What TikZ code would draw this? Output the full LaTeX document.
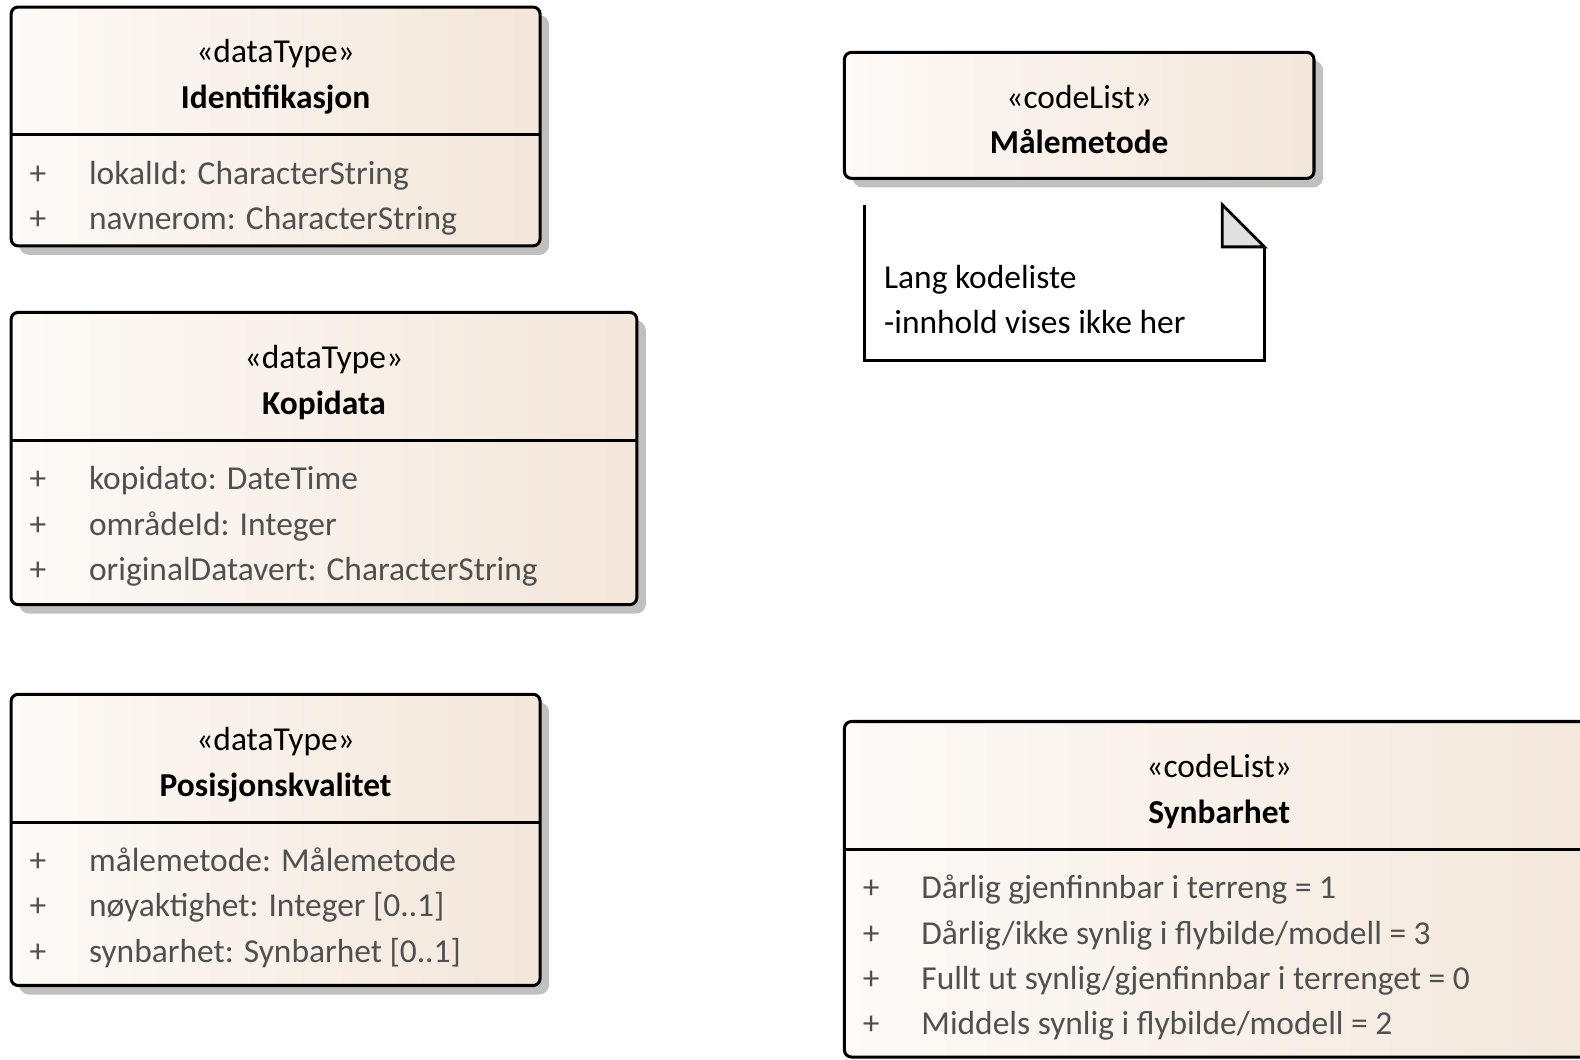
\documentclass[tikz,border=0pt]{standalone}
\usepackage{fontspec}
\setmainfont{Carlito}
\begin{document}
\begin{tikzpicture}[x=0.5pt,y=-0.5pt,
  shadowbox/.style={fill=shadowgray,rounded corners=5pt},
  classbox/.style={draw=black,line width=1.5pt,rounded corners=3.5pt,left color=boxleft,right color=boxright},
  divider/.style={draw=black,line width=1.5pt},
  stereo/.style={font=\fontsize{16.6}{20}\selectfont,text=black,inner sep=0pt,anchor=base},
  cname/.style={font=\fontsize{16.6}{20}\selectfont\bfseries,text=black,inner sep=0pt,anchor=base},
  attr/.style={font=\fontsize{16.6}{20}\selectfont,text=attrgray,anchor=base west,inner sep=0pt},
  notetxt/.style={font=\fontsize{16.6}{20}\selectfont,text=black,anchor=base west,inner sep=0pt}
]
\definecolor{shadowgray}{RGB}{192,192,192}
\definecolor{boxleft}{RGB}{253,250,247}
\definecolor{boxright}{RGB}{243,230,218}
\definecolor{attrgray}{RGB}{80,80,80}
\definecolor{foldgray}{RGB}{224,224,224}
\useasboundingbox (0,0) rectangle (1568,1051);
\clip (0,0) rectangle (1568,1051);

% ---------- Identifikasjon ----------
\fill[shadowbox] (19,15) rectangle (545,253);
\path[classbox] (11,7) rectangle (536,244);
\draw[divider] (11,133) -- (536,133);
\node[stereo] (idst) at (273.5,62) {«dataType»};
\node[cname] (idnm) at (273.5,108) {Identifikasjon};
\node[attr] (idp1) at (29,183) {+};
\node[attr] (ida1) at (88,183) {lokalId: CharacterString};
\node[attr] (idp2) at (29,228) {+};
\node[attr] (ida2) at (88,228) {navnerom: CharacterString};

% ---------- Kopidata ----------
\fill[shadowbox] (19,318) rectangle (641,609);
\path[classbox] (11,310) rectangle (632,600);
\draw[divider] (11,437) -- (632,437);
\node[stereo] (kost) at (321.5,366) {«dataType»};
\node[cname] (konm) at (321.5,411) {Kopidata};
\node[attr] (kop1) at (29,486) {+};
\node[attr] (koa1) at (88,486) {kopidato: DateTime};
\node[attr] (kop2) at (29,531) {+};
\node[attr] (koa2) at (88,531) {områdeId: Integer};
\node[attr] (kop3) at (29,576) {+};
\node[attr] (koa3) at (88,576) {originalDatavert: CharacterString};

% ---------- Posisjonskvalitet ----------
\fill[shadowbox] (19,697) rectangle (545,987);
\path[classbox] (11,689) rectangle (536,978);
\draw[divider] (11,816) -- (536,816);
\node[stereo] (post) at (273.5,745) {«dataType»};
\node[cname] (ponm) at (273.5,790) {Posisjonskvalitet};
\node[attr] (pop1) at (29,865) {+};
\node[attr] (poa1) at (88,865) {målemetode: Målemetode};
\node[attr] (pop2) at (29,910) {+};
\node[attr] (poa2) at (88,910) {nøyaktighet: Integer [0..1]};
\node[attr] (pop3) at (29,955) {+};
\node[attr] (poa3) at (88,955) {synbarhet: Synbarhet [0..1]};

% ---------- Målemetode ----------
\fill[shadowbox] (846,60) rectangle (1313,186);
\path[classbox] (838,52) rectangle (1304,177);
\node[stereo] (mast) at (1071,108) {«codeList»};
\node[cname] (manm) at (1071,152) {Målemetode};

% ---------- Note ----------
\draw[black,line width=1.4pt] (858,203) -- (858,358) -- (1255,358) -- (1255,245);
\filldraw[draw=black,fill=foldgray,line width=1.4pt,line join=miter] (1213,203) -- (1255,245) -- (1213,245) -- cycle;
\node[notetxt] (nt1) at (877,286) {Lang kodeliste};
\node[notetxt] (nt2) at (877,331) {-innhold vises ikke her};

% ---------- Synbarhet ----------
\path[classbox] (838,716) rectangle (1640,1049);
\draw[divider] (838,843) -- (1640,843);
\node[stereo] (syst) at (1210,772) {«codeList»};
\node[cname] (synm) at (1210,817) {Synbarhet};
\node[attr] (syp1) at (856,892) {+};
\node[attr] (sya1) at (914,892) {Dårlig gjenfinnbar i terreng = 1};
\node[attr] (syp2) at (856,937) {+};
\node[attr] (sya2) at (914,937) {Dårlig/ikke synlig i flybilde/modell = 3};
\node[attr] (syp3) at (856,982) {+};
\node[attr] (sya3) at (914,982) {Fullt ut synlig/gjenfinnbar i terrenget = 0};
\node[attr] (syp4) at (856,1027) {+};
\node[attr] (sya4) at (914,1027) {Middels synlig i flybilde/modell = 2};
\end{tikzpicture}
\end{document}
